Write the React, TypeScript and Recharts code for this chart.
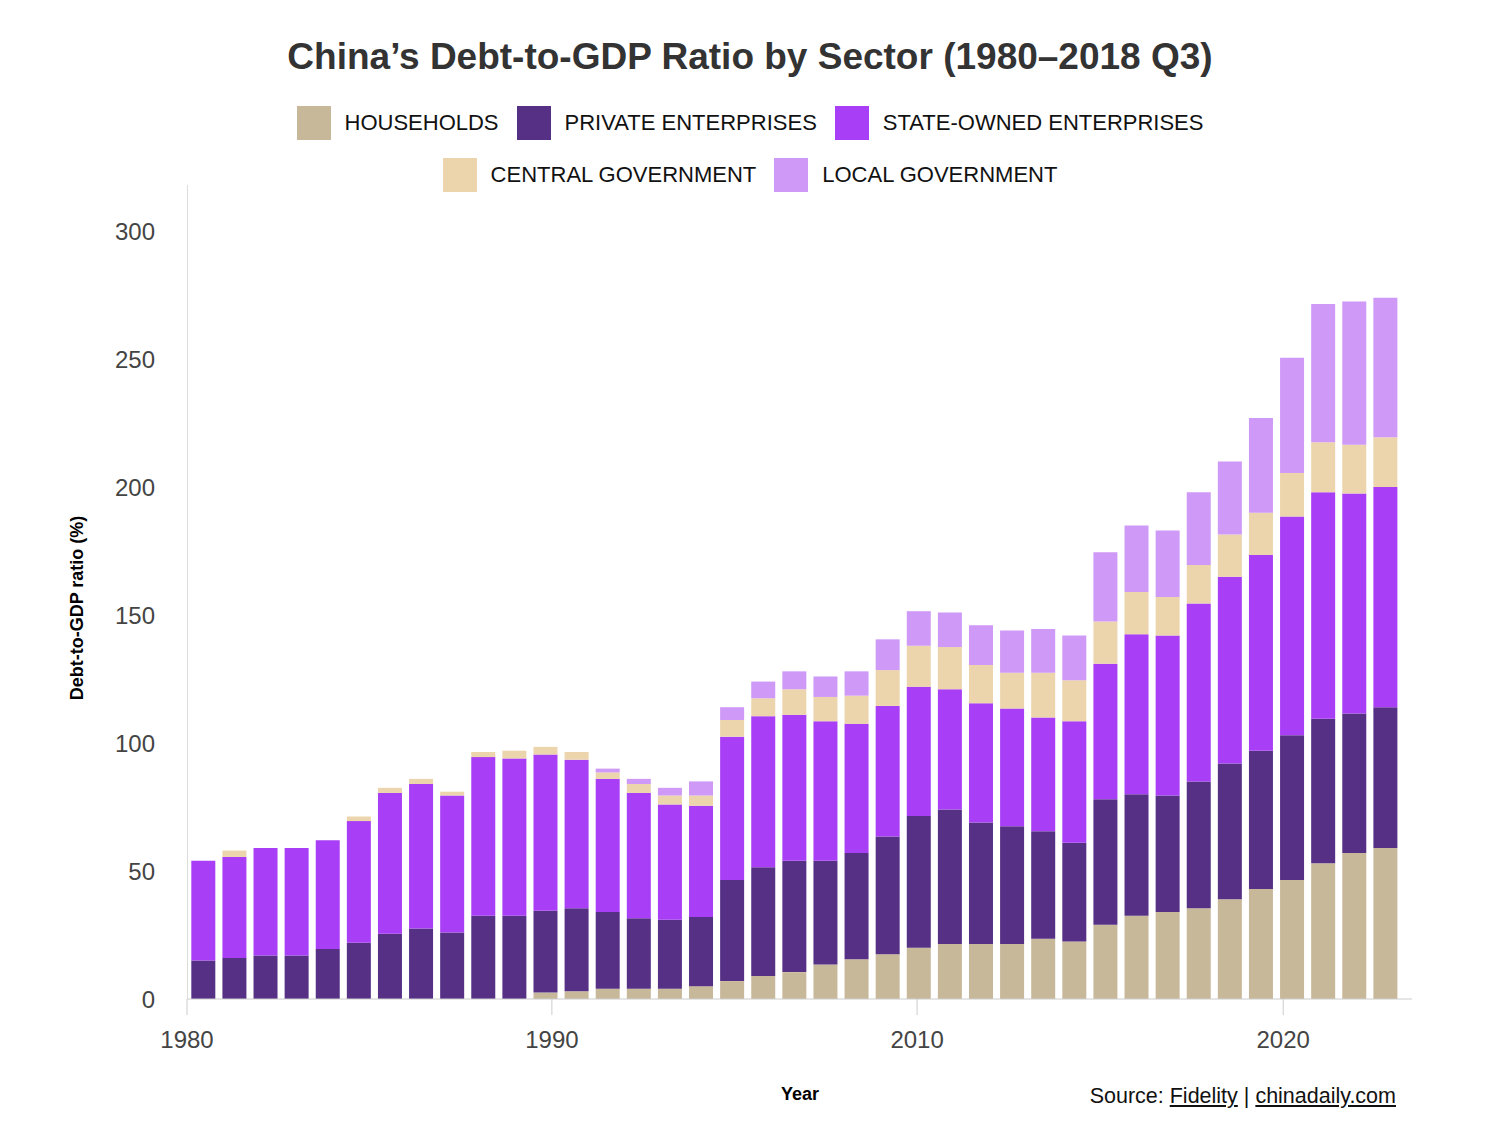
import { BarChart, Bar, XAxis, YAxis } from 'recharts'

const households = [0, 0, 0, 0, 0, 0, 0, 0, 0, 0, 0, 2.5, 3, 4, 4, 4, 5, 7, 9, 10.5, 13.5, 15.5, 17.5, 20, 21.5, 21.5, 21.5, 23.5, 22.5, 29, 32.5, 34, 35.5, 39, 43, 46.5, 53, 57, 59]
const privateEnt = [15, 16, 17, 17, 19.5, 22, 25.5, 27.5, 26, 32.5, 32.5, 32, 32.5, 30, 27.5, 27, 27, 39.5, 42.5, 43.5, 40.5, 41.5, 46, 51.5, 52.5, 47.5, 46, 42, 38.5, 49, 47.5, 45.5, 49.5, 53, 54, 56.5, 56.5, 54.5, 55]
const stateOwned = [39, 39.5, 42, 42, 42.5, 47.5, 55, 56.5, 53.5, 62, 61.5, 61, 58, 52, 49, 45, 43.5, 56, 59, 57, 54.5, 50.5, 51, 50.5, 47, 46.5, 46, 44.5, 47.5, 53, 62.5, 62.5, 69.5, 73, 76.5, 85.5, 88.5, 86, 86]
const centralGov = [0, 2.5, 0, 0, 0, 1.8, 2, 2, 1.5, 2, 3, 3, 3, 2.5, 3.5, 3.5, 4, 6.5, 7, 10, 9.5, 11, 14, 16, 16.5, 15, 14, 17.5, 16, 16.5, 16.5, 15, 15, 16.5, 16.5, 17, 19.5, 19, 19.5]
const localGov = [0, 0, 0, 0, 0, 0, 0, 0, 0, 0, 0, 0, 0, 1.5, 2, 3, 5.5, 5, 6.5, 7, 8, 9.5, 12, 13.5, 13.5, 15.5, 16.5, 17, 17.5, 27, 26, 26, 28.5, 28.5, 37, 45, 54, 56, 54.5]

const tickValues = [-0.51, 11.22, 22.96, 34.73]
const tickLabels = ['1980', '1990', '2010', '2020']
const yTicks = [0, 50, 100, 150, 200, 250, 300]

const series = [
  { key: 'h', name: 'HOUSEHOLDS', color: '#c8b89a' },
  { key: 'p', name: 'PRIVATE ENTERPRISES', color: '#553085' },
  { key: 's', name: 'STATE-OWNED ENTERPRISES', color: '#a83ef5' },
  { key: 'c', name: 'CENTRAL GOVERNMENT', color: '#ecd5ac' },
  { key: 'l', name: 'LOCAL GOVERNMENT', color: '#cf99f7' },
]

const data = households.map((h, i) => ({
  i, h, p: privateEnt[i], s: stateOwned[i], c: centralGov[i], l: localGov[i],
}))

const font = '"Liberation Sans", Arial, sans-serif'

function LegendItem({ name, color }: { name: string; color: string }) {
  return (
    <div style={{ display: 'flex', alignItems: 'center', margin: '0 9px' }}>
      <div style={{ width: 34, height: 34, background: color, marginRight: 14 }} />
      <span style={{ fontSize: 22, color: '#111' }}>{name}</span>
    </div>
  )
}

export default function App() {
  return (
    <div style={{ position: 'fixed', left: 0, top: 0, width: 1500, height: 1134, background: '#fff', fontFamily: font }}>
      <div style={{ position: 'absolute', top: 36, width: 1500, textAlign: 'center', fontSize: 37, fontWeight: 'bold', color: '#333' }}>
        China’s Debt-to-GDP Ratio by Sector (1980–2018 Q3)
      </div>
      <div style={{ position: 'absolute', top: 106, width: 1500, display: 'flex', justifyContent: 'center' }}>
        {series.slice(0, 3).map(s => <LegendItem key={s.key} name={s.name} color={s.color} />)}
      </div>
      <div style={{ position: 'absolute', top: 158, width: 1500, display: 'flex', justifyContent: 'center' }}>
        {series.slice(3).map(s => <LegendItem key={s.key} name={s.name} color={s.color} />)}
      </div>
      <div style={{ position: 'absolute', left: 0, top: 0 }}>
        <BarChart width={1500} height={1134} data={data} margin={{ top: 185, right: 88, bottom: 85, left: 107 }}>
          <XAxis
            type="number"
            dataKey="i"
            domain={[-0.51, 38.87]}
            ticks={tickValues}
            tickFormatter={(v: number) => tickLabels[tickValues.indexOf(v)] ?? ''}
            tick={{ fontSize: 24, fill: '#444', fontFamily: font }}
            stroke="#ccc"
            tickSize={16}
            tickMargin={16}
            height={50}
            allowDataOverflow
          />
          <YAxis
            domain={[0, 318]}
            ticks={yTicks}
            width={80}
            axisLine={false}
            tickLine={false}
            tick={{ fontSize: 24, fill: '#444', fontFamily: font }}
            tickMargin={26}
          />
          {series.map(s => (
            <Bar key={s.key} dataKey={s.key} stackId="a" fill={s.color} barSize={24} isAnimationActive={false} />
          ))}
        </BarChart>
      </div>
      <div style={{ position: 'absolute', left: 187, top: 185, width: 1, height: 814, background: '#ddd' }} />
      <div style={{ position: 'absolute', left: 77, top: 608, transform: 'translate(-50%,-50%) rotate(-90deg)', fontSize: 18, fontWeight: 'bold', whiteSpace: 'nowrap' }}>
        Debt-to-GDP ratio (%)
      </div>
      <div style={{ position: 'absolute', left: 800, top: 1084, transform: 'translateX(-50%)', fontSize: 18, fontWeight: 'bold' }}>Year</div>
      <div style={{ position: 'absolute', right: 104, top: 1084, fontSize: 21.5, color: '#111' }}>
        Source: <span style={{ textDecoration: 'underline' }}>Fidelity</span> | <span style={{ textDecoration: 'underline' }}>chinadaily.com</span>
      </div>
    </div>
  )
}
